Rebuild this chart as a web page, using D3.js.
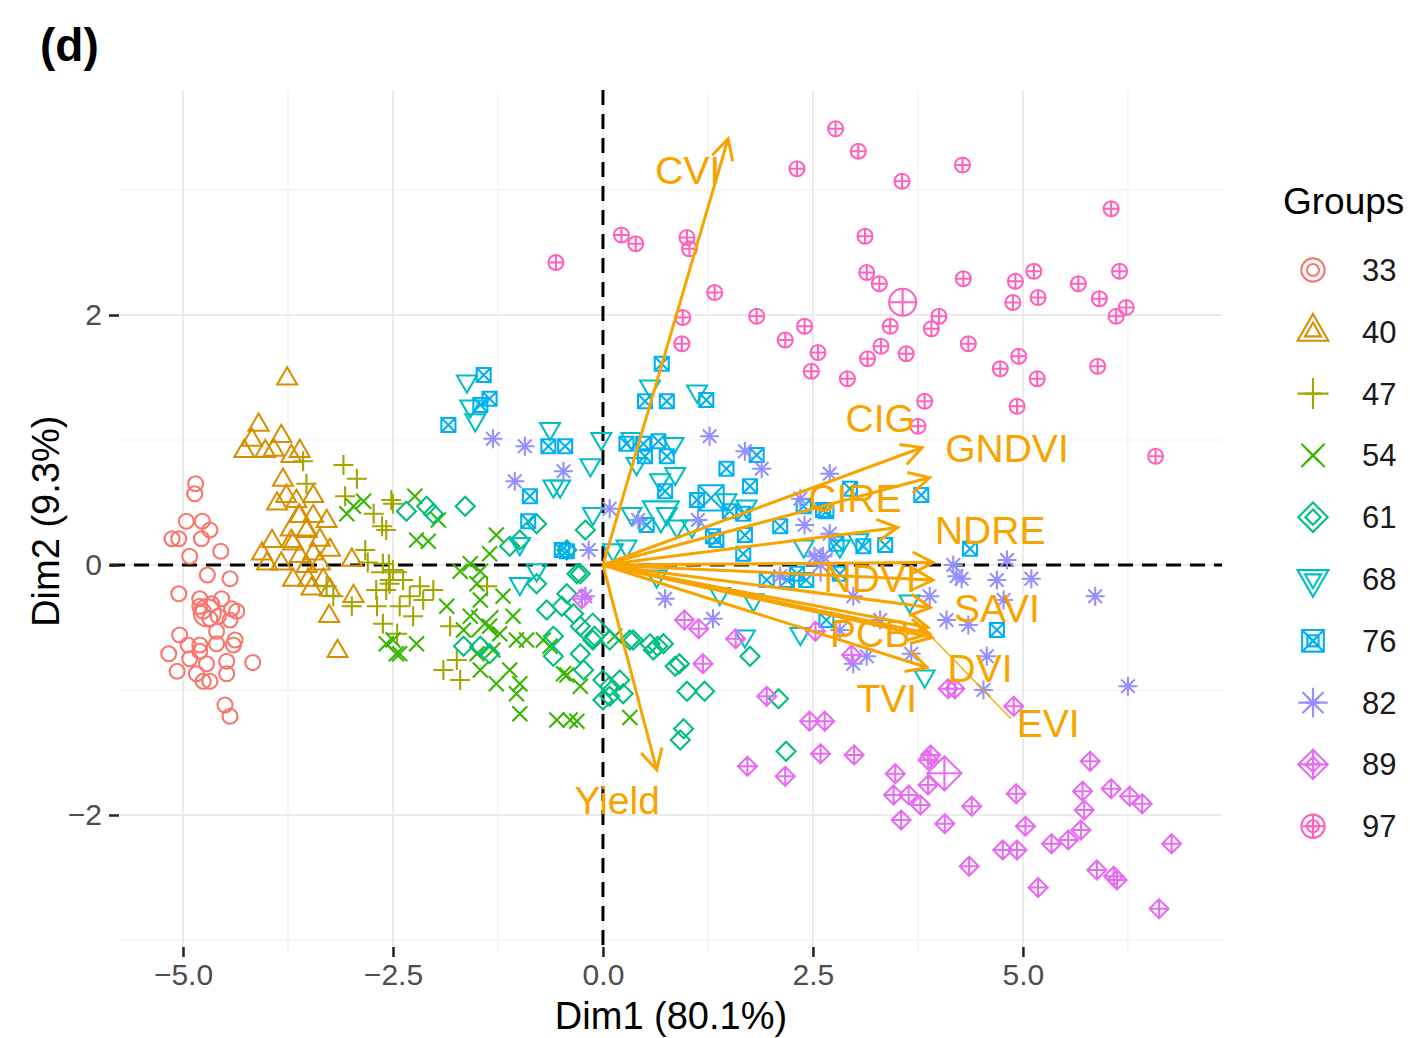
<!DOCTYPE html>
<html>
<head>
<meta charset="utf-8">
<script src="https://cdn.jsdelivr.net/npm/d3@7"></script>
<style>
  body { margin: 0; background: #fff; }
  text { font-family: "Liberation Sans", Arial, Helvetica, sans-serif; }
</style>
</head>
<body>
<svg id="chart" width="1410" height="1038"></svg>
<script>
// ---- PCA biplot data: individuals (Dim1, Dim2) by group ----
const groupNames = ["33", "40", "47", "54", "61", "68", "76", "82", "89", "97"];
const groupColors = ["#F8766D", "#D89000", "#A3A500", "#39B600", "#00BF7D",
                     "#00BFC4", "#00B0F6", "#9590FF", "#E76BF3", "#FF62BC"];
const groupShapes = ["circle", "triangle", "plus", "cross", "diamond",
                     "triangleDown", "squareCross", "asterisk", "diamondPlus", "circlePlus"];

const g33 = [[-4.85,0.65],[-4.86,0.57],[-4.96,0.35],[-4.77,0.35],[-4.68,0.28],[-4.78,0.21],[-5.13,0.21],[-5.05,0.21],[-4.55,0.11],[-4.92,0.07],[-4.71,-0.08],[-4.44,-0.11],[-5.05,-0.23],[-4.80,-0.27],[-4.66,-0.31],[-4.54,-0.27],[-4.42,-0.35],[-4.36,-0.37],[-4.76,-0.37],[-4.68,-0.43],[-4.58,-0.41],[-4.44,-0.44],[-4.80,-0.33],[-5.04,-0.56],[-4.94,-0.64],[-4.80,-0.64],[-4.60,-0.63],[-4.38,-0.60],[-4.40,-0.64],[-4.60,-0.53],[-5.17,-0.71],[-4.92,-0.75],[-4.80,-0.69],[-4.72,-0.79],[-4.48,-0.77],[-4.17,-0.78],[-5.07,-0.85],[-4.84,-0.87],[-4.48,-0.87],[-4.76,-0.93],[-4.68,-0.93],[-4.50,-1.12],[-4.44,-1.21]];
const g40 = [[-3.76,1.49],[-4.10,1.12],[-4.18,1.00],[-4.27,0.91],[-3.83,1.03],[-4.02,0.91],[-3.92,0.92],[-3.71,0.87],[-3.61,0.91],[-3.81,0.68],[-3.77,0.55],[-3.88,0.49],[-3.65,0.51],[-3.45,0.55],[-3.61,0.39],[-3.45,0.39],[-3.29,0.35],[-3.53,0.27],[-3.94,0.19],[-3.71,0.19],[-4.06,0.09],[-3.83,0.01],[-3.61,0.07],[-3.45,0.09],[-3.25,0.12],[-2.99,0.04],[-3.53,-0.01],[-3.37,0.01],[-3.69,-0.12],[-3.51,-0.12],[-3.33,-0.12],[-3.47,-0.19],[-3.25,-0.20],[-4.00,0.01],[-2.97,-0.25],[-3.26,-0.41],[-3.16,-0.69],[-3.69,0.17],[-3.37,0.20]];
const g47 = [[-3.57,0.83],[-3.53,0.65],[-3.09,0.80],[-2.93,0.69],[-3.07,0.55],[-2.73,0.41],[-2.63,0.31],[-2.52,0.52],[-2.83,0.12],[-2.62,0.01],[-2.54,-0.12],[-2.58,-0.20],[-3.21,-0.25],[-2.99,-0.33],[-2.69,-0.33],[-3.29,-0.17],[-2.62,-0.47],[-2.50,0.49],[-2.58,0.28],[-2.50,-0.04],[-2.38,-0.12],[-2.54,-0.15],[-2.18,-0.17],[-2.02,-0.20],[-2.30,-0.25],[-2.14,-0.28],[-2.42,-0.33],[-2.26,-0.41],[-1.82,-0.49],[-1.38,-0.17],[-1.90,-0.84],[-1.70,-0.92],[-1.74,-0.76],[-2.80,0.02],[-2.70,-0.20],[-2.45,-0.55]];
const g54 = [[-2.97,0.47],[-2.85,0.51],[-3.05,0.41],[-2.58,-0.63],[-2.46,-0.71],[-2.24,0.55],[-1.96,0.36],[-2.22,0.20],[-2.08,0.19],[-1.27,0.24],[-1.35,0.09],[-1.58,0.01],[-1.70,-0.05],[-1.46,-0.05],[-1.50,-0.15],[-1.86,-0.33],[-1.46,-0.28],[-1.19,-0.25],[-1.07,-0.41],[-1.58,-0.41],[-1.35,-0.49],[-1.23,-0.55],[-1.66,-0.52],[-1.03,-0.60],[-0.91,-0.60],[-0.71,-0.60],[-0.63,-0.65],[-2.50,-0.60],[-2.22,-0.63],[-2.42,-0.71],[-1.50,-0.71],[-1.31,-0.68],[-1.46,-0.84],[-1.11,-0.84],[-1.27,-0.95],[-0.99,-0.95],[-1.03,-1.03],[-0.47,-0.87],[-0.27,-0.97],[-0.99,-1.19],[-0.55,-1.24],[-0.39,-1.24],[-0.31,-1.25],[0.32,-1.22],[-0.43,-0.88],[0.14,-0.57]];
const g61 = [[-2.34,0.43],[-2.10,0.47],[-2.02,0.41],[-1.64,0.47],[-0.79,0.33],[-0.99,0.20],[-1.11,0.15],[-0.21,0.28],[-0.43,0.12],[-0.79,-0.15],[-0.67,-0.36],[-0.49,-0.33],[-0.43,-0.23],[-0.27,-0.07],[-0.35,-0.39],[-0.12,-0.60],[-0.27,-0.49],[-0.59,-0.57],[-1.66,-0.65],[-1.35,-0.71],[-1.46,-0.65],[-0.59,-0.73],[-0.27,-0.71],[-0.23,-0.84],[0.08,-0.60],[0.08,-0.97],[0.24,-1.03],[0.00,-1.08],[0.36,-0.60],[0.56,-0.63],[0.72,-0.63],[0.60,-0.68],[0.86,-0.81],[-0.31,-0.07],[-0.10,-0.57],[0.32,-0.60],[1.00,-1.01],[1.21,-1.01],[1.75,-0.73],[2.09,-1.07],[0.96,-1.31],[0.92,-1.40],[2.18,-1.49],[0.00,-0.92],[0.20,-0.92],[0.08,-1.05],[0.65,-0.65],[0.91,-0.79]];
const g68 = [[-1.62,1.47],[-1.58,1.27],[-1.52,1.16],[-0.63,1.09],[-0.02,1.01],[-0.15,0.80],[-0.59,0.63],[-0.51,0.63],[-0.12,0.41],[-0.99,0.17],[-0.79,-0.04],[-0.99,-0.15],[0.34,1.01],[0.84,0.97],[0.40,0.81],[0.86,0.73],[0.68,0.68],[0.56,1.43],[1.12,1.39],[0.34,0.41],[0.76,0.41],[0.88,0.31],[0.28,0.15],[0.12,0.12],[1.47,0.52],[1.71,0.47],[0.64,-0.09],[1.39,-0.23],[1.79,-0.28],[2.35,-0.55],[1.69,-0.57],[2.39,0.15],[3.04,0.20],[3.65,-0.29],[3.83,-0.89],[2.82,0.15],[1.06,0.31]];
const g76 = [[-1.42,1.52],[-1.35,1.33],[-1.46,1.28],[-1.84,1.12],[-0.65,0.95],[-0.45,0.95],[-0.87,0.55],[-0.89,0.35],[-0.49,0.12],[0.50,1.31],[0.76,1.31],[1.23,1.32],[0.28,0.97],[0.48,0.97],[0.66,0.99],[0.50,0.87],[0.76,0.87],[0.74,0.59],[1.47,0.77],[1.83,0.88],[1.75,0.63],[1.12,0.52],[1.51,0.43],[0.52,0.32],[1.69,0.24],[1.35,0.20],[2.11,0.31],[-0.43,0.11],[1.67,0.41],[1.31,0.23],[1.67,0.09],[2.39,0.47],[2.66,0.43],[2.78,0.17],[3.10,0.15],[3.36,0.16],[3.79,0.56],[4.37,0.13],[1.95,-0.12],[2.19,-0.12],[2.42,-0.12],[2.31,-0.07],[2.82,-0.07],[2.66,-0.44],[4.69,-0.52],[2.62,0.44],[2.94,0.61],[0.70,1.61]];
const g82 = [[-1.31,1.01],[-0.93,0.95],[-0.47,0.75],[-1.05,0.67],[0.08,0.45],[0.42,0.36],[-0.17,0.12],[-0.21,-0.25],[0.74,-0.27],[1.27,1.03],[1.69,0.91],[1.89,0.77],[1.13,0.36],[1.31,-0.43],[2.40,0.32],[2.70,0.73],[2.35,0.53],[2.70,0.25],[2.52,0.07],[2.11,-0.09],[2.98,-0.25],[3.89,-0.25],[4.09,-0.44],[4.21,-0.09],[4.17,0.00],[4.69,-0.12],[2.98,-0.79],[3.14,-0.73],[3.67,-0.71],[4.53,-1.00],[4.57,-0.73],[2.82,-0.52],[4.27,-0.11],[4.81,0.04],[4.77,-0.28],[5.10,-0.11],[5.86,-0.25],[4.35,-0.48],[6.25,-0.97],[3.30,-0.44],[2.62,0.07]];
const g89 = [[0.97,-0.44],[1.14,-0.51],[1.58,-0.59],[1.19,-0.79],[1.95,-1.05],[2.53,-0.53],[2.96,-0.72],[4.11,-0.99],[4.19,-0.99],[4.89,-1.13],[2.46,-1.25],[2.64,-1.25],[1.72,-1.61],[2.17,-1.69],[2.59,-1.51],[2.99,-1.52],[3.48,-1.67],[3.87,-1.56],[3.87,-1.76],[3.46,-1.84],[3.64,-1.84],[3.78,-1.92],[3.55,-2.04],[4.07,-2.07],[4.39,-1.93],[4.36,-2.41],[4.76,-2.28],[4.93,-2.28],[4.92,-1.83],[5.03,-2.09],[5.18,-2.58],[5.34,-2.23],[5.54,-2.20],[5.69,-2.12],[5.73,-1.96],[5.71,-1.81],[5.80,-1.57],[6.05,-1.79],[6.27,-1.85],[6.42,-1.91],[5.88,-2.44],[6.08,-2.49],[6.12,-2.52],[6.77,-2.23],[6.62,-2.75],[-0.25,-0.27],[3.90,-1.52]];
const g97 = [[2.77,3.49],[3.04,3.31],[2.31,3.17],[3.56,3.07],[4.28,3.20],[0.22,2.64],[0.39,2.57],[1.00,2.62],[1.03,2.53],[3.12,2.63],[3.14,2.34],[3.29,2.25],[4.29,2.29],[1.33,2.18],[0.95,1.98],[0.94,1.77],[1.83,1.99],[2.40,1.91],[2.17,1.80],[2.56,1.70],[2.48,1.55],[2.91,1.49],[3.15,1.65],[3.31,1.75],[3.42,1.91],[3.61,1.69],[3.91,1.89],[4.00,1.99],[4.35,1.77],[3.83,1.31],[3.75,1.11],[4.73,1.57],[6.05,2.85],[4.91,2.27],[5.13,2.35],[4.88,2.10],[5.18,2.14],[5.66,2.25],[6.15,2.35],[5.91,2.13],[6.23,2.06],[6.11,1.99],[4.95,1.67],[5.17,1.49],[4.93,1.27],[5.89,1.59],[6.58,0.87],[-0.56,2.42]];
const groupPoints = [g33, g40, g47, g54, g61, g68, g76, g82, g89, g97];

// ---- Variable loadings (arrow tips on the same axes) ----
const varNames = ["CVI", "Yield", "CIG", "GNDVI", "CIRE", "NDRE", "NDVI", "SAVI", "PCB", "DVI", "TVI", "EVI"];
const varDim1  = [1.49, 0.64, 3.80, 3.89, 3.51, 3.93, 3.93, 3.90, 3.87, 3.89, 3.86, 3.92];
const varDim2  = [3.41, -1.64, 0.94, 0.70, 0.30, 0.02, -0.12, -0.34, -0.50, -0.55, -0.82, -0.58];

// ---- Axis text ----
const xTickValues = [-5, -2.5, 0, 2.5, 5];
const yTickValues = [-2, 0, 2];
const xTitle = "Dim1 (80.1%)";
const yTitle = "Dim2 (9.3%)";
const panelTag = "(d)";
const legendTitle = "Groups";

// ---- Layout ----
const svg = d3.select("#chart");
const orange = "#F7A400";
const x = d3.scaleLinear().domain([-5.75, 7.37]).range([120, 1222]);
const y = d3.scaleLinear().domain([-3.1, 3.8]).range([952.5, 90]);
const [x0, x1] = x.range();
const [y0, y1] = [y.range()[1], y.range()[0]];
const markStroke = 2.1;

// Repelled label anchors for the variable names (Dim1, Dim2 units)
const labelAnchor = {
  CVI: [1.01, 3.16], Yield: [0.17, -1.88], CIG: [3.30, 1.18], GNDVI: [4.81, 0.94],
  CIRE: [3.00, 0.54], NDRE: [4.61, 0.28], NDVI: [3.18, -0.10], SAVI: [4.69, -0.34],
  PCB: [3.18, -0.54], DVI: [4.49, -0.82], TVI: [3.38, -1.06], EVI: [5.30, -1.26]
};

// Glyph paths for the ten point shapes; k scales the glyph
function shapePath(shape, k) {
  const circ = r => `M${-r},0A${r},${r} 0 1,0 ${r},0A${r},${r} 0 1,0 ${-r},0Z`;
  const plus = r => `M${-r},0H${r}M0,${-r}V${r}`;
  const cross = r => `M${-r},${-r}L${r},${r}M${-r},${r}L${r},${-r}`;
  const dia = r => `M0,${-r}L${r},0L0,${r}L${-r},0Z`;
  const tri = (R, dir) => `M0,${-R * dir}L${0.866 * R},${0.5 * R * dir}L${-0.866 * R},${0.5 * R * dir}Z`;
  switch (shape) {
    case "circle": return circ(7.5 * k);
    case "triangle": return tri(11.5 * k, 1);
    case "plus": return plus(10 * k);
    case "cross": return cross(7.5 * k);
    case "diamond": return dia(9.5 * k);
    case "triangleDown": return tri(11.5 * k, -1);
    case "squareCross": { const s = 7 * k; return `M${-s},${-s}H${s}V${s}H${-s}Z` + cross(s); }
    case "asterisk": return plus(9.5 * k) + cross(6.8 * k);
    case "diamondPlus": { const r = 9.5 * k; return dia(r) + plus(r); }
    case "circlePlus": { const r = 7.5 * k; return circ(r) + plus(r); }
  }
}

// Grid
const grid = svg.append("g");
const xMinor = [-3.75, -1.25, 1.25, 3.75, 6.25];
const yMinor = [-3, -1, 1, 3];
grid.selectAll(".vminor").data(xMinor).join("line")
  .attr("x1", d => x(d)).attr("x2", d => x(d)).attr("y1", y0).attr("y2", y1)
  .attr("stroke", "#F2F2F2").attr("stroke-width", 1.2);
grid.selectAll(".hminor").data(yMinor).join("line")
  .attr("y1", d => y(d)).attr("y2", d => y(d)).attr("x1", x0).attr("x2", x1)
  .attr("stroke", "#F2F2F2").attr("stroke-width", 1.2);
grid.selectAll(".vmajor").data(xTickValues).join("line")
  .attr("x1", d => x(d)).attr("x2", d => x(d)).attr("y1", y0).attr("y2", y1)
  .attr("stroke", "#EBEBEB").attr("stroke-width", 2);
grid.selectAll(".hmajor").data(yTickValues).join("line")
  .attr("y1", d => y(d)).attr("y2", d => y(d)).attr("x1", x0).attr("x2", x1)
  .attr("stroke", "#EBEBEB").attr("stroke-width", 2);

// Dashed reference lines through the origin
svg.append("line").attr("x1", x0 - 10).attr("x2", x1).attr("y1", y(0)).attr("y2", y(0))
  .attr("stroke", "#000").attr("stroke-width", 3).attr("stroke-dasharray", "15,9");
svg.append("line").attr("x1", x(0)).attr("x2", x(0)).attr("y1", y0).attr("y2", y1)
  .attr("stroke", "#000").attr("stroke-width", 3).attr("stroke-dasharray", "15,9");

// Axes
const xAxis = svg.append("g").attr("transform", `translate(0,947)`)
  .call(d3.axisBottom(x).tickValues(xTickValues).tickFormat(d3.format(".1f")).tickSize(10).tickPadding(7));
const yAxis = svg.append("g").attr("transform", `translate(119,0)`)
  .call(d3.axisLeft(y).tickValues(yTickValues).tickFormat(d3.format(".0f")).tickSize(10).tickPadding(7));
[xAxis, yAxis].forEach(a => {
  a.select(".domain").remove();
  a.selectAll(".tick line").attr("stroke", "#222").attr("stroke-width", 2.5);
  a.selectAll(".tick text").attr("fill", "#4D4D4D").style("font-size", "30px")
    .style("font-family", "'Liberation Sans', Arial, sans-serif");
});

// Individuals
const pts = svg.append("g");
groupPoints.forEach((arr, gi) => {
  pts.append("g").selectAll("path").data(arr).join("path")
    .attr("transform", d => `translate(${x(d[0])},${y(d[1])})`)
    .attr("d", shapePath(groupShapes[gi], 1))
    .attr("fill", "none").attr("stroke", groupColors[gi]).attr("stroke-width", markStroke);
});

// Group centroids (larger glyphs)
groupPoints.forEach((arr, gi) => {
  const mx = d3.mean(arr, d => d[0]), my = d3.mean(arr, d => d[1]);
  pts.append("path")
    .attr("transform", `translate(${x(mx)},${y(my)})`)
    .attr("d", shapePath(groupShapes[gi], 1.8))
    .attr("fill", "none").attr("stroke", groupColors[gi]).attr("stroke-width", markStroke);
});

// Variable arrows
const arrows = svg.append("g");
const ox = x(0), oy = y(0);
varNames.forEach((name, i) => {
  const tx = x(varDim1[i]), ty = y(varDim2[i]);
  const ang = Math.atan2(ty - oy, tx - ox), L = 23, a = Math.PI / 6.5;
  arrows.append("line").attr("x1", ox).attr("y1", oy).attr("x2", tx).attr("y2", ty)
    .attr("stroke", orange).attr("stroke-width", 3);
  arrows.append("path")
    .attr("d", `M${tx - L * Math.cos(ang - a)},${ty - L * Math.sin(ang - a)}L${tx},${ty}L${tx - L * Math.cos(ang + a)},${ty - L * Math.sin(ang + a)}`)
    .attr("fill", "none").attr("stroke", orange).attr("stroke-width", 3)
    .attr("stroke-linejoin", "miter");
});

// Variable labels (with a connector where the label was pushed away from its tip)
const labels = svg.append("g");
varNames.forEach((name, i) => {
  const [lx, ly] = labelAnchor[name];
  const t = labels.append("text").attr("x", x(lx)).attr("y", y(ly)).attr("dy", "0.36em")
    .attr("text-anchor", "middle").attr("fill", orange).style("font-size", "39px").text(name);
  if (name === "EVI") {
    const w = t.node().getComputedTextLength();
    labels.insert("line", "text")
      .attr("x1", x(varDim1[i])).attr("y1", y(varDim2[i]))
      .attr("x2", x(lx) - w / 2 - 6).attr("y2", y(ly) - 4)
      .attr("stroke", orange).attr("stroke-width", 1.2);
  }
});

// Titles
svg.append("text").attr("x", 40).attr("y", 61).style("font-size", "46px")
  .style("font-weight", "bold").attr("fill", "#000").text(panelTag);
svg.append("text").attr("x", (x0 + x1) / 2).attr("y", 1029).attr("text-anchor", "middle")
  .style("font-size", "38px").attr("fill", "#000").text(xTitle);
svg.append("text").attr("transform", `translate(59,${(y0 + y1) / 2}) rotate(-90)`)
  .attr("text-anchor", "middle").style("font-size", "38px").attr("fill", "#000").text(yTitle);

// Legend
const lg = svg.append("g");
lg.append("text").attr("x", 1283).attr("y", 214).style("font-size", "37px").attr("fill", "#000").text(legendTitle);
groupNames.forEach((g, i) => {
  const cy = 270 + i * 61.8;
  [1.55, 0.8].forEach(k => {
    lg.append("path").attr("transform", `translate(1313,${cy})`)
      .attr("d", shapePath(groupShapes[i], k))
      .attr("fill", "none").attr("stroke", groupColors[i]).attr("stroke-width", markStroke);
  });
  lg.append("text").attr("x", 1362).attr("y", cy + 11).style("font-size", "31px")
    .attr("fill", "#1a1a1a").text(g);
});
</script>
</body>
</html>
